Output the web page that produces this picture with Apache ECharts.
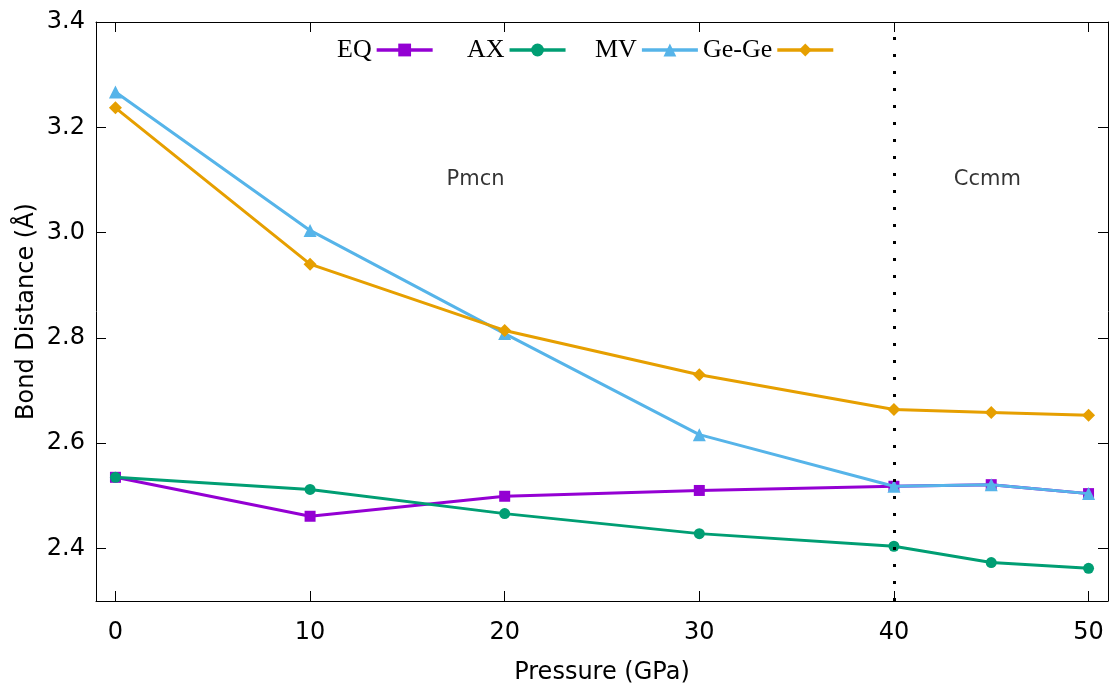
<!DOCTYPE html>
<html>
<head>
<meta charset="utf-8">
<script src="https://cdn.jsdelivr.net/npm/echarts@6/dist/echarts.min.js"></script>
<style>html,body{margin:0;padding:0;background:#fff;}#c{width:1113px;height:687px;}</style>
</head>
<body>
<div id="c"></div>
<script>
const pressure = [0, 10, 20, 30, 40, 45, 50];
const eq    = [2.535, 2.461, 2.499, 2.510, 2.518, 2.521, 2.504];
const ax    = [2.535, 2.512, 2.466, 2.428, 2.404, 2.373, 2.362];
const mv    = [3.267, 3.004, 2.808, 2.616, 2.518, 2.521, 2.504];
const gege  = [3.237, 2.940, 2.814, 2.730, 2.664, 2.658, 2.653];
const xTicks = [0, 10, 20, 30, 40, 50];
const yTicks = [2.4, 2.6, 2.8, 3.0, 3.2, 3.4];
const transition = 40;
const phaseLabels = ['Pmcn', 'Ccmm'];
const phaseX = [18.5, 44.8];
const phaseY = [3.1, 3.1];

const pts = ys => pressure.map((x, i) => [x, ys[i]]);
const axisFont = {fontFamily: 'DejaVu Sans', fontSize: 24, color: '#000'};

const seriesDefs = [
  {name: 'EQ', data: eq, color: '#9400d3', symbol: 'rect', size: 11},
  {name: 'AX', data: ax, color: '#009e73', symbol: 'circle', size: 11},
  {name: 'MV', data: mv, color: '#56b4e9', symbol: 'triangle', size: 13},
  {name: 'Ge-Ge', data: gege, color: '#e69f00', symbol: 'diamond', size: 13}
];
const legendLeft = [337, 467, 595, 703];

const series = seriesDefs.map((s, i) => ({
  name: s.name, type: 'line', data: pts(s.data),
  symbol: s.symbol, symbolSize: s.size, showSymbol: true,
  lineStyle: {color: s.color, width: 3},
  itemStyle: {color: s.color},
  animation: false, z: 2 + i
}));
series[0].markLine = {
  silent: true, symbol: ['none', 'none'], label: {show: false},
  lineStyle: {color: '#000', type: [3, 14], width: 3},
  data: [{xAxis: transition}], animation: false
};
series.push({
  name: 'phase', type: 'scatter', symbolSize: 1,
  itemStyle: {color: 'transparent'},
  data: phaseLabels.map((t, i) => ({value: [phaseX[i], phaseY[i]], name: t})),
  label: {show: true, position: 'inside', formatter: p => p.name,
          fontFamily: 'DejaVu Sans', fontSize: 21, color: '#000'},
  animation: false, silent: true
});

const legends = seriesDefs.map((s, i) => ({
  data: [s.name], left: legendLeft[i], top: 37, padding: 0,
  align: 'right', itemWidth: 56, itemHeight: 16, itemGap: 0,
  lineStyle: {width: 3.5},
  textStyle: {fontFamily: 'Liberation Serif', fontSize: 26, color: '#000'},
  selectedMode: false
}));

const chart = echarts.init(document.getElementById('c'), null, {renderer: 'canvas'});
chart.setOption({
  backgroundColor: '#fff',
  animation: false,
  grid: {left: 96, right: 5, top: 22, bottom: 86, show: false, containLabel: false, outerBoundsMode: 'none'},
  legend: legends,
  xAxis: [
    {type: 'value', min: -1, max: 51, position: 'bottom',
     name: 'Pressure (GPa)', nameLocation: 'middle', nameGap: 60, nameMoveOverlap: false,
     nameTextStyle: axisFont,
     axisLine: {show: true, onZero: false, lineStyle: {color: '#000', width: 1}},
     axisTick: {show: true, inside: true, length: 10, customValues: xTicks, lineStyle: {color: '#000'}},
     axisLabel: {customValues: xTicks, margin: 20, ...axisFont},
     splitLine: {show: false}},
    {type: 'value', min: -1, max: 51, position: 'top',
     axisLine: {show: true, onZero: false, lineStyle: {color: '#000', width: 1}},
     axisTick: {show: true, inside: true, length: 10, customValues: xTicks, lineStyle: {color: '#000'}},
     axisLabel: {show: false}, splitLine: {show: false}}
  ],
  yAxis: [
    {type: 'value', min: 2.3, max: 3.4, position: 'left',
     name: 'Bond Distance (Å)', nameLocation: 'middle', nameGap: 57, nameMoveOverlap: false,
     nameTextStyle: axisFont,
     axisLine: {show: true, onZero: false, lineStyle: {color: '#000', width: 1}},
     axisTick: {show: true, inside: true, length: 10, customValues: yTicks, lineStyle: {color: '#000'}},
     axisLabel: {customValues: yTicks, margin: 11, formatter: v => v.toFixed(1), ...axisFont},
     splitLine: {show: false}},
    {type: 'value', min: 2.3, max: 3.4, position: 'right',
     axisLine: {show: true, onZero: false, lineStyle: {color: '#000', width: 1}},
     axisTick: {show: true, inside: true, length: 10, customValues: yTicks, lineStyle: {color: '#000'}},
     axisLabel: {show: false}, splitLine: {show: false}}
  ],
  series: series
});
</script>
</body>
</html>
